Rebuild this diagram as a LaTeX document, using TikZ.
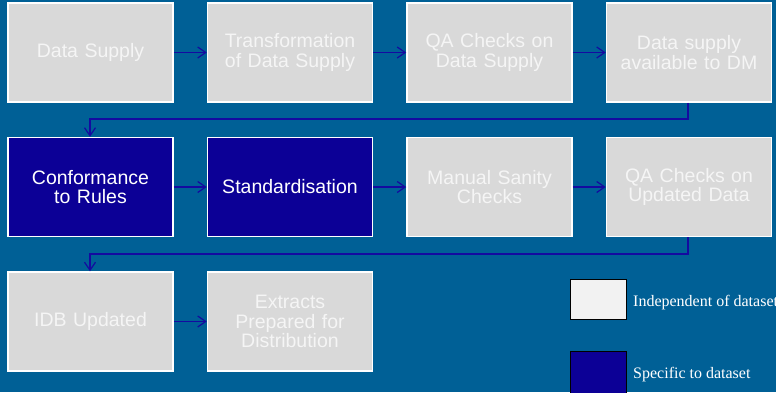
\documentclass[tikz,border=0pt]{standalone}
\usepackage{fontspec}
\setmainfont{Liberation Serif}
\newfontfamily\boxfont{Liberation Sans}
\usetikzlibrary{arrows.meta}
\definecolor{bgblue}{RGB}{0,96,150}
\definecolor{boxgray}{RGB}{217,217,217}
\definecolor{boxtext}{RGB}{245,245,245}
\definecolor{darkbox}{RGB}{12,0,150}
\definecolor{arrowblue}{RGB}{20,10,160}
\definecolor{legendlight}{RGB}{242,242,242}
\tikzset{
  stepbox/.style={draw=white, line width=1.5pt, minimum width=165pt, minimum height=99pt,
    inner sep=2pt, align=center, text width=160pt,
    font=\boxfont\fontsize{19.5}{19.5}\selectfont},
  indep/.style={stepbox, fill=boxgray, text=boxtext},
  spec/.style={stepbox, fill=darkbox, text=white},
  flow/.style={draw=arrowblue, line width=1.2pt, -{Straight Barb[length=8pt,width=11pt]}},
  legbox/.style={draw=black, line width=0.8pt, minimum width=56pt, minimum height=40pt, inner sep=0pt},
  legtext/.style={text=white, anchor=west, inner sep=0pt, font=\fontsize{16}{18}\selectfont}
}
\begin{document}
\begin{tikzpicture}[x=1pt,y=-1pt]
\fill[bgblue] (0,0) rectangle (776,392);
\useasboundingbox (0,0) rectangle (776,392);
% row 1
\node[indep] (a1) at (90.5,52.5) {Data Supply};
\node[indep] (a2) at (290,52.5) {Transformation\\of Data Supply};
\node[indep] (a3) at (489.5,52.5) {QA Checks on\\Data Supply};
\node[indep] (a4) at (689,52.5) {Data supply\\available to DM};
% row 2
\node[spec] (b1) at (90.5,187) {Conformance\\to Rules};
\node[spec] (b2) at (290,187) {Standardisation};
\node[indep] (b3) at (489.5,187) {Manual Sanity\\Checks};
\node[indep] (b4) at (689,187) {QA Checks on\\Updated Data};
% row 3
\node[indep] (c1) at (90.5,321.5) {IDB Updated};
\node[indep] (c2) at (290,321.5) {Extracts\\Prepared for\\Distribution};
% arrows
\draw[flow] (a1) -- (a2);
\draw[flow] (a2) -- (a3);
\draw[flow] (a3) -- (a4);
\draw[flow] (b1) -- (b2);
\draw[flow] (b2) -- (b3);
\draw[flow] (b3) -- (b4);
\draw[flow] (c1) -- (c2);
\draw[flow] (a4.south -| 688,0) -- (688,119) -- (90,119) -- (b1.north -| 90,0);
\draw[flow] (b4.south -| 688,0) -- (688,254) -- (90,254) -- (c1.north -| 90,0);
% legend
\node[legbox, fill=legendlight] (l1) at (598,299) {};
\node[legbox, fill=darkbox, minimum height=42pt] (l2) at (598,372) {};
\node[legtext] (t1) at (633,303) {Independent of dataset};
\node[legtext] (t2) at (633,375) {Specific to dataset};
\end{tikzpicture}
\end{document}
